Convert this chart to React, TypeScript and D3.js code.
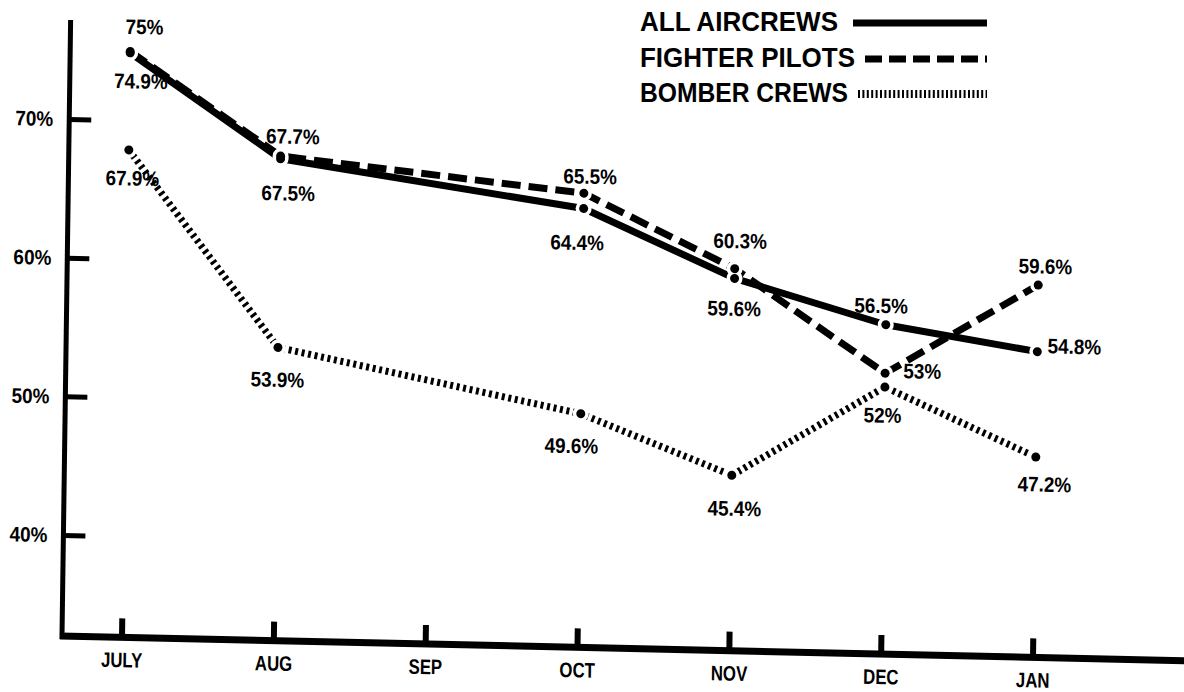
import React from "react";
import * as d3 from "d3";

// chart values
const months = ["JULY", "AUG", "SEP", "OCT", "NOV", "DEC", "JAN"];
const pointMonths = ["JULY", "AUG", "OCT", "NOV", "DEC", "JAN"];
const allAircrews = [74.9, 67.5, 64.4, 59.6, 56.5, 54.8];
const fighterPilots = [75, 67.7, 65.5, 60.3, 53, 59.6];
const bomberCrews = [67.9, 53.9, 49.6, 45.4, 52, 47.2];
const yTicks = [40, 50, 60, 70];
const legendNames = ["ALL AIRCREWS", "FIGHTER PILOTS", "BOMBER CREWS"];

// where each value label sits relative to its point (dx, dy)
const labelOffsets: Record<string, [number, number][]> = {
  all: [[11, 28], [8, 34], [-6, 34], [0, 30], [-5, -19], [37, -6]],
  fighter: [[14, -25], [12, -20], [6, -17], [5, -28], [37, -3], [7, -19]],
  bomber: [[4, 28], [0, 32], [-9, 32], [3, 33], [-2, 28], [9, 27]],
};

const W = 1184;
const H = 692;
const FONT = "'Liberation Sans', Arial, Helvetica, sans-serif";

// the scanned original is slightly skewed: mimic it with a shear around the axis corner
const origin = { x: 62, y: 636 };
const shearB = 0.022; // x-axis drops to the right
const shearC = -0.014; // y-axis leans to the left at the bottom
const skew = `matrix(1, ${shearB}, ${shearC}, 1, ${-shearC * origin.y}, ${-shearB * origin.x})`;

const x = d3.scalePoint<string>().domain(months).range([122, 1033]);
const y = d3.scaleLinear().domain([40, 70]).range([535.5, 119.5]);

const series = [
  { key: "all", values: allAircrews, dash: "none" },
  { key: "fighter", values: fighterPilots, dash: "19 8" },
  { key: "bomber", values: bomberCrews, dash: "3 3.6" },
];

const line = d3
  .line<number>()
  .x((_, i) => x(pointMonths[i]) as number)
  .y((d) => y(d));

const fmt = (v: number) => `${v}%`;

// narrow the letters a little, like the condensed type of the original
const condensed = (cx: number, cy: number, sx: number) =>
  `translate(${cx},${cy}) scale(${sx},1)`;

export default function App() {
  return (
    <svg
      width={W}
      height={H}
      style={{ position: "absolute", left: 0, top: 0, background: "#fff" }}
      fontFamily={FONT}
      fontWeight="bold"
    >
      <rect width={W} height={H} fill="#fff" />
      <g transform={skew}>
        {/* axes */}
        <line x1={origin.x} x2={origin.x} y1={20} y2={origin.y + 3} stroke="#000" strokeWidth={5} />
        <line x1={origin.x - 2} x2={W + 40} y1={origin.y} y2={origin.y} stroke="#000" strokeWidth={7} />
        {yTicks.map((t) => (
          <g key={t}>
            <line x1={origin.x} x2={origin.x + 22} y1={y(t)} y2={y(t)} stroke="#000" strokeWidth={5} />
            <text
              transform={condensed(46, y(t) + 7, 0.9)}
              textAnchor="end"
              fontSize={21}
              fill="#000"
            >
              {t}%
            </text>
          </g>
        ))}
        {months.map((m) => (
          <g key={m}>
            <line x1={x(m)} x2={x(m)} y1={origin.y} y2={origin.y - 19} stroke="#000" strokeWidth={6} />
            <text
              transform={condensed(x(m) as number, 666, 0.8)}
              textAnchor="middle"
              fontSize={21}
              fill="#000"
            >
              {m}
            </text>
          </g>
        ))}

        {/* series lines */}
        {series.map((s) => (
          <path
            key={s.key}
            d={line(s.values) || ""}
            fill="none"
            stroke="#000"
            strokeWidth={7}
            strokeDasharray={s.dash}
            strokeLinejoin="round"
          />
        ))}
        {/* white gaps around points, then the points */}
        {series.map((s) =>
          s.values.map((v, i) => (
            <circle key={`${s.key}-h${i}`} cx={x(pointMonths[i])} cy={y(v)} r={8} fill="#fff" />
          ))
        )}
        {series.map((s) =>
          s.values.map((v, i) => (
            <circle key={`${s.key}-d${i}`} cx={x(pointMonths[i])} cy={y(v)} r={4.5} fill="#000" />
          ))
        )}
        {/* value labels */}
        {series.map((s) =>
          s.values.map((v, i) => {
            const [dx, dy] = labelOffsets[s.key][i];
            return (
              <text
                key={`${s.key}-l${i}`}
                transform={condensed((x(pointMonths[i]) as number) + dx, y(v) + dy + 7.5, 0.9)}
                textAnchor="middle"
                fontSize={21}
                fill="#000"
              >
                {fmt(v)}
              </text>
            );
          })
        )}
      </g>

      {/* legend */}
      {legendNames.map((name, i) => {
        const base = [31, 67, 102][i];
        const lens = [198, 215, 208];
        const s = series[i];
        const lx = [853, 865, 858][i];
        return (
          <g key={name}>
            <text x={640} y={base} fontSize={28} fill="#000" textLength={lens[i]} lengthAdjust="spacingAndGlyphs">
              {name}
            </text>
            <line
              x1={lx}
              x2={987}
              y1={base - 8}
              y2={base - 8}
              stroke="#000"
              strokeWidth={s.key === "bomber" ? 8 : 7}
              strokeDasharray={s.key === "bomber" ? "2 2.4" : s.key === "fighter" ? "17 7" : "none"}
            />
          </g>
        );
      })}
    </svg>
  );
}
